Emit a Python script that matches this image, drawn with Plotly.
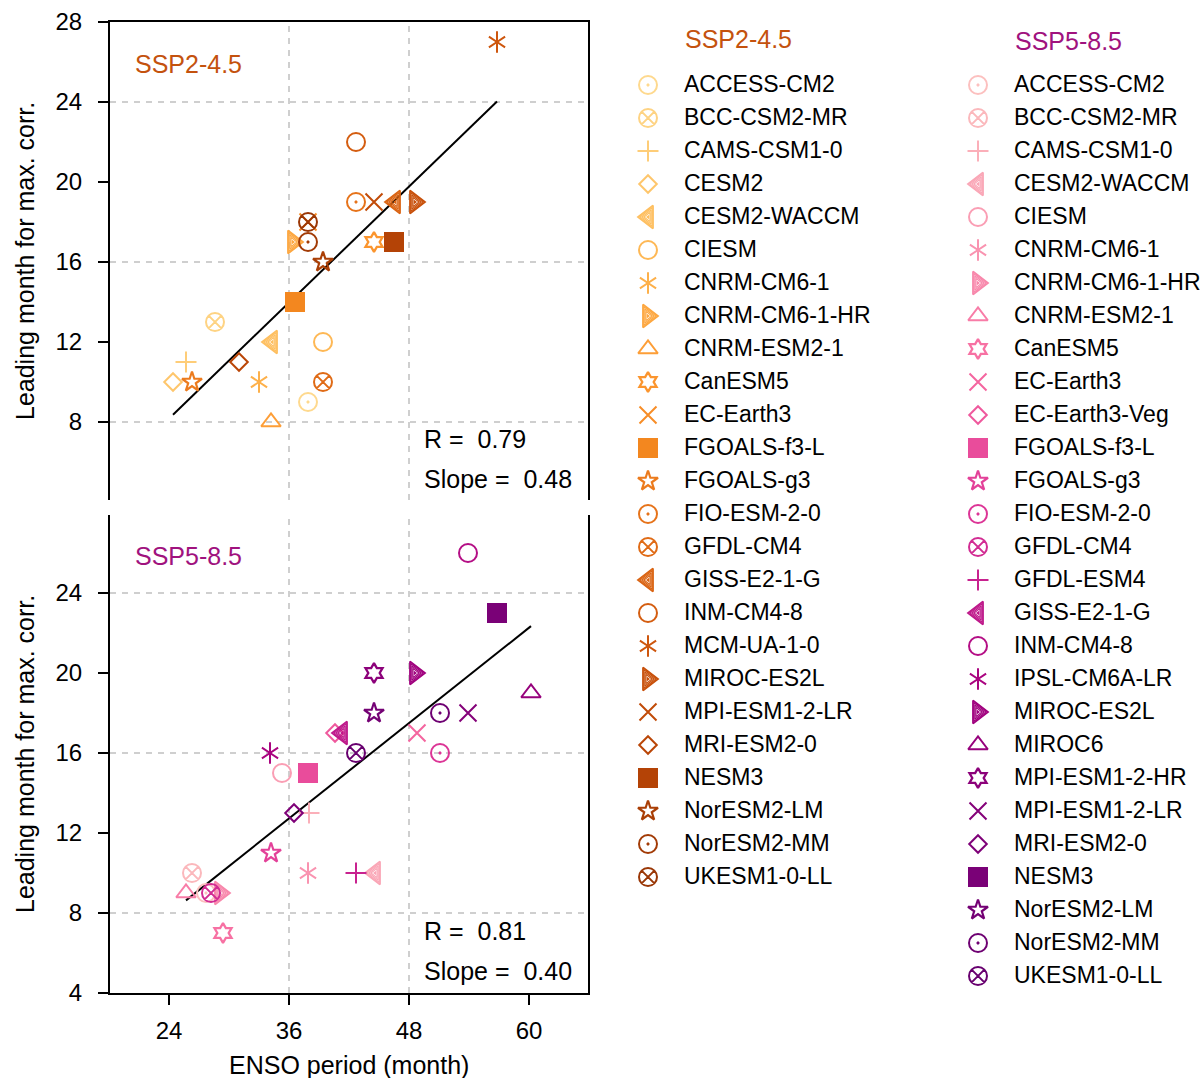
import numpy as np
import plotly.graph_objects as go

# ---------------- data ----------------
models_245 = ["ACCESS-CM2", "BCC-CSM2-MR", "CAMS-CSM1-0", "CESM2", "CESM2-WACCM", "CIESM",
              "CNRM-CM6-1", "CNRM-CM6-1-HR", "CNRM-ESM2-1", "CanESM5", "EC-Earth3", "FGOALS-f3-L",
              "FGOALS-g3", "FIO-ESM-2-0", "GFDL-CM4", "GISS-E2-1-G", "INM-CM4-8", "MCM-UA-1-0",
              "MIROC-ES2L", "MPI-ESM1-2-LR", "MRI-ESM2-0", "NESM3", "NorESM2-LM", "NorESM2-MM",
              "UKESM1-0-LL"]
period_245 = [37.9, 28.6, 25.7, 24.4, 34.3, 39.4, 33.0, 36.4, 34.2, 44.5, 37.9, 36.6,
              26.3, 42.7, 39.4, 46.6, 42.7, 56.8, 48.6, 44.5, 31.0, 46.5, 39.4, 37.9, 37.9]
lead_245 = [9, 13, 11, 10, 12, 12, 10, 17, 8, 17, 18, 14,
            10, 19, 10, 19, 22, 27, 19, 19, 11, 17, 16, 17, 18]
sym_245 = ['cdot', 'cx', 'plus', 'diamond', 'tril', 'circle', 'ast', 'trir', 'triu', 'hex', 'x', 'square',
           'star', 'cdot', 'cx', 'tril', 'circle', 'ast', 'trir', 'x', 'diamond', 'square', 'star', 'cdot', 'cx']
col_245 = ["#fed98e", "#fed383", "#fecd78", "#fec66c", "#febf60", "#feb855", "#fdb04a", "#fda740",
           "#fd9e37", "#fb952e", "#f78d27", "#f3871f", "#ec7b1d", "#e6731a", "#e06b16", "#da6413",
           "#d45d10", "#ce560d", "#c8500a", "#c14b08", "#ba4607", "#b44306", "#aa3f06", "#a23b06",
           "#9a3706"]

models_585 = ["ACCESS-CM2", "BCC-CSM2-MR", "CAMS-CSM1-0", "CESM2-WACCM", "CIESM", "CNRM-CM6-1",
              "CNRM-CM6-1-HR", "CNRM-ESM2-1", "CanESM5", "EC-Earth3", "EC-Earth3-Veg", "FGOALS-f3-L",
              "FGOALS-g3", "FIO-ESM-2-0", "GFDL-CM4", "GFDL-ESM4", "GISS-E2-1-G", "INM-CM4-8",
              "IPSL-CM6A-LR", "MIROC-ES2L", "MIROC6", "MPI-ESM1-2-HR", "MPI-ESM1-2-LR", "MRI-ESM2-0",
              "NESM3", "NorESM2-LM", "NorESM2-MM", "UKESM1-0-LL"]
period_585 = [27.7, 26.3, 38.0, 44.6, 35.3, 37.9, 29.1, 25.7, 29.4, 48.8, 40.6, 37.9,
              34.2, 51.1, 28.2, 42.7, 41.3, 53.9, 34.1, 48.6, 60.2, 44.5, 53.9, 36.5,
              56.8, 44.5, 51.1, 42.7]
lead_585 = [9, 10, 13, 10, 15, 10, 9, 9, 7, 17, 17, 15,
            11, 16, 9, 10, 17, 26, 16, 20, 19, 20, 18, 13,
            23, 18, 18, 16]
sym_585 = ['cdot', 'cx', 'plus', 'tril', 'circle', 'ast', 'trir', 'triu', 'hex', 'x', 'diamond', 'square',
           'star', 'cdot', 'cx', 'plus', 'tril', 'circle', 'ast', 'trir', 'triu', 'hex', 'x', 'diamond',
           'square', 'star', 'cdot', 'cx']
col_585 = ["#fcc0bf", "#fbb8bc", "#fbafb9", "#faa6b6", "#fa9eb4", "#f993b0", "#f887ab", "#f87ca7",
           "#f771a3", "#f4659f", "#ef599d", "#e94c9b", "#e34199", "#dc3596", "#d22c93", "#c8228f",
           "#be188a", "#b40e85", "#aa0480", "#a0017e", "#96017c", "#8c017a", "#840179", "#7e0178",
           "#7a0177", "#740174", "#6e0072", "#68006f"]

stats_245 = ["R =\u00a0\u00a00.79", "Slope =\u00a0\u00a00.48"]
stats_585 = ["R =\u00a0\u00a00.81", "Slope =\u00a0\u00a00.40"]

x_ticks = [24, 36, 48, 60]
y_ticks_top = [8, 12, 16, 20, 24, 28]
y_ticks_bot = [4, 8, 12, 16, 20, 24]
x_grid = [36, 48]
y_grid = [8, 16, 24]

TITLE_245 = "#c4520e"
TITLE_585 = "#a0127e"
FONT = "Liberation Sans, Arial, Helvetica, sans-serif"

W, H = 1200, 1078

# ---------------- glyph specs ----------------
SPECS = {
    'cdot': [('circle-open-dot', 18, 2)],
    'cx': [('circle-x-open', 18, 2)],
    'plus': [('cross-thin-open', 15, 2)],
    'diamond': [('diamond-open', 13.5, 2)],
    'circle': [('circle-open', 18, 2)],
    'x': [('x-thin-open', 17, 2)],
    'square': [('square', 20, 0)],
    'star': [('star-open', 15, 2.2)],
    'hex': [('hexagram-open', 15, 2.3)],
    'triu': [('triangle-up-open', 17, 2)],
    'ast': [('y-up-open', 13.5, 2), ('y-down-open', 13.5, 2)],
    'tril': [('triangle-left-open', 20, 1.8), ('triangle-left-open', 16, 1.2),
             ('triangle-left-open', 12, 1.2), ('triangle-left-open', 8, 1.2),
             ('triangle-left', 4, 0)],
    'trir': [('triangle-right-open', 20, 1.8), ('triangle-right-open', 16, 1.2),
             ('triangle-right-open', 12, 1.2), ('triangle-right-open', 8, 1.2),
             ('triangle-right', 4, 0)],
}


def add_glyph(fig, x, y, key, color, xa, ya):
    for sym, size, lw in SPECS[key]:
        fig.add_trace(go.Scatter(
            x=[x], y=[y], mode='markers', xaxis=xa, yaxis=ya,
            showlegend=False, hoverinfo='skip',
            marker=dict(symbol=sym, size=size, color=color,
                        line=dict(width=lw, color=color))))


fig = go.Figure()

panels = [
    (period_245, lead_245, sym_245, col_245, 'x', 'y'),
    (period_585, lead_585, sym_585, col_585, 'x2', 'y2'),
]
for xs, ys, syms, cols, xa, ya in panels:
    xs_a = np.array(xs)
    ys_a = np.array(ys, dtype=float)
    slope, icpt = np.polyfit(xs_a, ys_a, 1)
    xl = np.array([xs_a.min(), xs_a.max()])
    fig.add_trace(go.Scatter(x=xl, y=slope * xl + icpt, mode='lines', xaxis=xa, yaxis=ya,
                             line=dict(color='black', width=2), showlegend=False,
                             hoverinfo='skip'))
    for xv, yv, s, c in zip(xs, ys, syms, cols):
        add_glyph(fig, xv, yv, s, c, xa, ya)

# ---------------- manual legend (pixel-coordinate overlay axes) ----------------
leg_cols = [
    (models_245, sym_245, col_245, 648, 684, "SSP2-4.5", TITLE_245, 39),
    (models_585, sym_585, col_585, 978, 1014, "SSP5-8.5", TITLE_585, 41),
]
ROW0, ROWH = 85, 33
for names, syms, cols, mx, tx, ttl, tcol, ty in leg_cols:
    ypos = [ROW0 + ROWH * i for i in range(len(names))]
    for yv, s, c in zip(ypos, syms, cols):
        add_glyph(fig, mx, yv, s, c, 'x3', 'y3')
    fig.add_trace(go.Scatter(x=[tx] * len(names), y=[v + 1.5 for v in ypos], mode='text',
                             text=names, textposition='middle right', xaxis='x3', yaxis='y3',
                             cliponaxis=False,
                             textfont=dict(size=23, color='black', family=FONT),
                             showlegend=False, hoverinfo='skip'))
    fig.add_annotation(x=(tx - 1) / W, y=1 - ty / H, xref='paper', yref='paper',
                       text=ttl, showarrow=False, xanchor='left', yanchor='middle',
                       font=dict(size=25, color=tcol, family=FONT))

# ---------------- layout ----------------
xdom = [110 / W, 588 / W]
ydom_top = [1 - 500 / H, 1 - 22 / H]
ydom_bot = [1 - 993 / H, 1 - 515 / H]

axis_common = dict(linecolor='black', linewidth=2, showgrid=False, zeroline=False,
                   tickfont=dict(size=24, color='black', family=FONT), ticks='outside',
                   ticklen=10, tickwidth=2, tickcolor='black', fixedrange=True,
                   automargin=False)

fig.update_layout(
    width=W, height=H, autosize=False,
    margin=dict(l=0, r=0, t=0, b=0, pad=0, autoexpand=False),
    paper_bgcolor='white', plot_bgcolor='rgba(0,0,0,0)',
    font=dict(family=FONT, size=24, color='black'),
    showlegend=False,
    xaxis=dict(domain=xdom, range=[18.1, 65.9], anchor='y', side='top', showline=True,
               linecolor='black', linewidth=2, showticklabels=False, ticks='',
               showgrid=False, zeroline=False, fixedrange=True, automargin=False),
    yaxis=dict(domain=ydom_top, range=[4.1, 28], anchor='x', showline=True, mirror=True,
               tickvals=y_ticks_top, ticktext=[str(v) for v in y_ticks_top],
               ticklabelstandoff=11, **axis_common),
    xaxis2=dict(domain=xdom, range=[18.1, 65.9], anchor='y2', showline=True,
                tickvals=x_ticks, ticktext=[str(v) for v in x_ticks],
                ticklabelstandoff=5, **axis_common),
    yaxis2=dict(domain=ydom_bot, range=[4, 27.9], anchor='x2', showline=True, mirror=True,
                tickvals=y_ticks_bot, ticktext=[str(v) for v in y_ticks_bot],
                ticklabelstandoff=11, **axis_common),
    xaxis3=dict(domain=[0, 1], range=[0, W], anchor='y3', visible=False, fixedrange=True,
                automargin=False),
    yaxis3=dict(domain=[0, 1], range=[H, 0], anchor='x3', visible=False, fixedrange=True,
                automargin=False),
)

# gridlines
shapes = []
for xa, ya in [('x', 'y'), ('x2', 'y2')]:
    for gx in x_grid:
        shapes.append(dict(type='line', xref=xa, yref=ya + ' domain', x0=gx, x1=gx, y0=0, y1=1,
                           line=dict(color='#c0c0c0', width=1.5, dash='6px,6px'), layer='below'))
    for gy in y_grid:
        shapes.append(dict(type='line', xref=xa + ' domain', yref=ya, x0=0, x1=1, y0=gy, y1=gy,
                           line=dict(color='#c0c0c0', width=1.5, dash='6px,6px'), layer='below'))
fig.update_layout(shapes=shapes)


def px_ann(x, y, text, size=25, color='black', xanchor='left', angle=0):
    fig.add_annotation(x=x / W, y=1 - y / H, xref='paper', yref='paper', text=text,
                       showarrow=False, xanchor=xanchor, yanchor='middle', textangle=angle,
                       font=dict(size=size, color=color, family=FONT))


px_ann(133, 64, "SSP2-4.5", color=TITLE_245)
px_ann(133, 556, "SSP5-8.5", color=TITLE_585)
px_ann(422, 439, stats_245[0])
px_ann(422, 479, stats_245[1])
px_ann(422, 931, stats_585[0])
px_ann(422, 971, stats_585[1])
px_ann(25, 261, "Leading month for max. corr.", xanchor='center', angle=-90)
px_ann(25, 754, "Leading month for max. corr.", xanchor='center', angle=-90)
px_ann(349, 1065, "ENSO period (month)", xanchor='center')

fig.write_html("out.html", config={'displayModeBar': False},
               post_script="document.body.style.margin='0';document.body.style.overflow='hidden';")
